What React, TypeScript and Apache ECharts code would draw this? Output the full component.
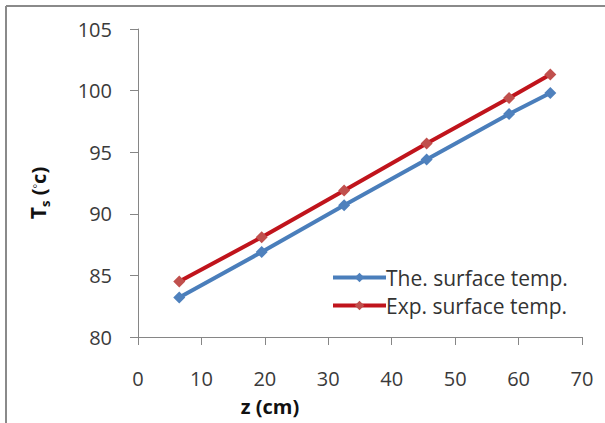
import React, { useEffect, useRef } from "react";
import * as echarts from "echarts";

const zValues = [6.5, 19.5, 32.5, 45.5, 58.5, 65];
const theoretical = [83.2, 86.9, 90.7, 94.4, 98.1, 99.8];
const experimental = [84.5, 88.1, 91.9, 95.7, 99.4, 101.3];
const seriesNames = ["The. surface temp.", "Exp. surface temp."];
const xTitle = "z (cm)";

const FONT = "'Open Sans', 'Noto Sans', sans-serif";
const BLUE_LINE = "#4a7ebb";
const BLUE_MARK = "#4f81bd";
const RED_LINE = "#c0141c";
const RED_MARK = "#c0504d";

export default function App() {
  const ref = useRef<HTMLDivElement>(null);
  useEffect(() => {
    document.body.style.margin = "0";
    if (!ref.current) return;
    const chart = echarts.init(ref.current, null, { renderer: "svg" });
    const toPairs = (ys: number[]) => zValues.map((x, i) => [x, ys[i]]);
    chart.setOption({
      animation: false,
      backgroundColor: "#ffffff",
      textStyle: { fontFamily: FONT },
      grid: { left: 138, right: 23, top: 29, bottom: 86, containLabel: false },
      legend: {
        left: 326,
        top: 262,
        orient: "vertical",
        itemWidth: 53,
        itemHeight: 12,
        itemGap: 7,
        textStyle: { fontSize: 21, color: "#333333", fontFamily: FONT, padding: [0, 0, 0, -5] },
        data: [
          { name: seriesNames[0], lineStyle: { color: BLUE_LINE, width: 4 }, itemStyle: { color: BLUE_MARK } },
          { name: seriesNames[1], lineStyle: { color: RED_LINE, width: 4 }, itemStyle: { color: RED_MARK } },
        ],
      },
      xAxis: {
        type: "value",
        min: 0,
        max: 70,
        interval: 10,
        splitLine: { show: false },
        axisLine: { show: true, onZero: false, lineStyle: { color: "#868686", width: 1 } },
        axisTick: { show: true, inside: false, length: 8, lineStyle: { color: "#868686" } },
        axisLabel: { fontSize: 20, color: "#3a3a3a", margin: 31, fontFamily: FONT },
      },
      yAxis: {
        type: "value",
        min: 80,
        max: 105,
        interval: 5,
        splitLine: { show: false },
        axisLine: { show: true, lineStyle: { color: "#868686", width: 1 } },
        axisTick: { show: true, inside: false, length: 8, lineStyle: { color: "#868686" } },
        axisLabel: { fontSize: 20, color: "#3a3a3a", margin: 26, fontFamily: FONT },
      },
      series: [
        {
          name: seriesNames[0],
          type: "line",
          data: toPairs(theoretical),
          symbol: "diamond",
          symbolSize: 12,
          lineStyle: { color: BLUE_LINE, width: 4 },
          itemStyle: { color: BLUE_MARK },
        },
        {
          name: seriesNames[1],
          type: "line",
          data: toPairs(experimental),
          symbol: "diamond",
          symbolSize: 12,
          lineStyle: { color: RED_LINE, width: 4 },
          itemStyle: { color: RED_MARK },
        },
      ],
      graphic: [
        {
          type: "line",
          shape: { x1: 6, y1: 6, x2: 605, y2: 6 },
          style: { stroke: "#8a8a8a", lineWidth: 2 },
        },
        {
          type: "line",
          shape: { x1: 6, y1: 6, x2: 6, y2: 423 },
          style: { stroke: "#8a8a8a", lineWidth: 2 },
        },
        {
          type: "text",
          x: 270,
          y: 406,
          style: {
            text: xTitle,
            fontSize: 20,
            fontWeight: "bold",
            fill: "#111111",
            fontFamily: FONT,
            align: "center",
            verticalAlign: "middle",
          },
        },
        {
          type: "text",
          x: 38,
          y: 193,
          rotation: Math.PI / 2,
          style: {
            text: "{t|T}{s|s}{n| (}{d|°}{n|c)}",
            align: "center",
            verticalAlign: "middle",
            fontFamily: FONT,
            rich: {
              t: { fontSize: 21, fontWeight: "bold", fill: "#111111", fontFamily: FONT, lineHeight: 26, verticalAlign: "middle" },
              s: { fontSize: 13, fontWeight: "bold", fill: "#111111", fontFamily: FONT, lineHeight: 26, verticalAlign: "bottom", padding: [6, 0, 0, 0] },
              n: { fontSize: 20, fontWeight: "bold", fill: "#111111", fontFamily: FONT, lineHeight: 26, verticalAlign: "middle" },
              d: { fontSize: 11, fontWeight: "normal", fill: "#111111", fontFamily: FONT, lineHeight: 26, verticalAlign: "middle", padding: [0, 0, 4, 0] },
            },
          },
        },
      ],
    });
    return () => chart.dispose();
  }, []);
  return <div ref={ref} style={{ width: 605, height: 423 }} />;
}
